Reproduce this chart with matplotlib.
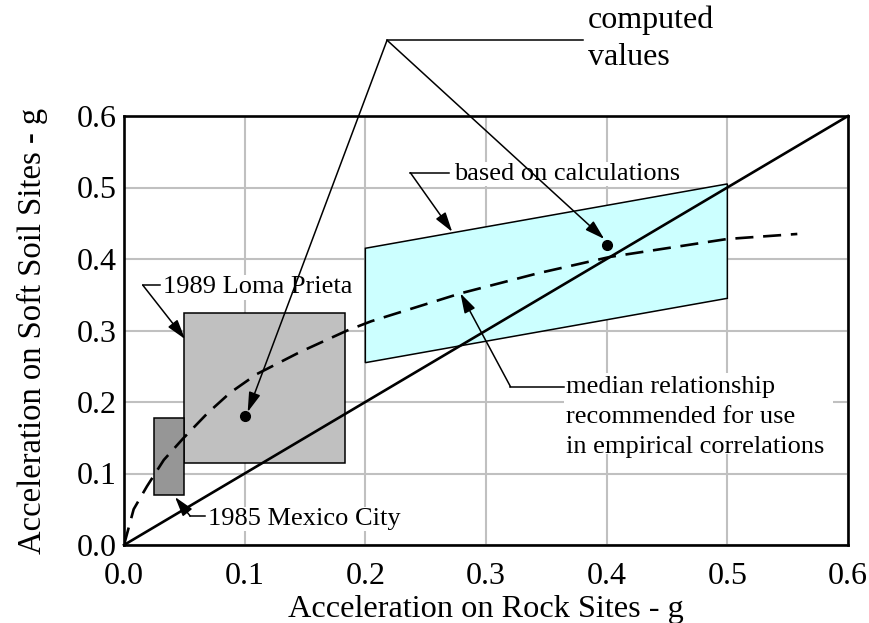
import matplotlib
matplotlib.use("Agg")
import matplotlib.pyplot as plt
from matplotlib.patches import Rectangle, Polygon

plt.rcParams['font.family'] = ['Liberation Serif', 'DejaVu Serif']
plt.rcParams['lines.scale_dashes'] = False

# ---- data -------------------------------------------------------------
tick_values = [0.0, 0.1, 0.2, 0.3, 0.4, 0.5, 0.6]
tick_labels = ["0.0", "0.1", "0.2", "0.3", "0.4", "0.5", "0.6"]

# 1:1 reference line
equal_rock = [0.0, 0.6]
equal_soft = [0.0, 0.6]

# median relationship (rock vs soft-soil acceleration)
median_rock = [0.0, 0.008, 0.019, 0.033, 0.049, 0.069, 0.088, 0.110,
               0.146, 0.185, 0.205, 0.279, 0.343, 0.403, 0.500, 0.558]
median_soft = [0.0, 0.050, 0.082, 0.119, 0.149, 0.184, 0.213, 0.239,
               0.270, 0.300, 0.313, 0.352, 0.380, 0.403, 0.428, 0.435]

# observed ranges
mexico_rock = [0.025, 0.050]
mexico_soft = [0.070, 0.177]
loma_rock = [0.050, 0.183]
loma_soft = [0.115, 0.325]

# band from calculations
calc_rock = [0.2, 0.5, 0.5, 0.2]
calc_soft = [0.255, 0.345, 0.505, 0.415]

# computed values
computed_rock = [0.1, 0.4]
computed_soft = [0.18, 0.42]

# ---- figure -----------------------------------------------------------
W, H = 869, 623
fig = plt.figure(figsize=(W / 100, H / 100), dpi=100)
ax = fig.add_axes([124 / W, 1 - 545 / H, 724 / W, 429 / H])
ax.set_xlim(0, 0.6)
ax.set_ylim(0, 0.6)
ax.set_xticks(tick_values)
ax.set_yticks(tick_values)
ax.set_xticklabels(tick_labels)
ax.set_yticklabels(tick_labels)
ax.tick_params(length=0, labelsize=23)
ax.tick_params(axis='x', pad=12)
ax.tick_params(axis='y', pad=5)
ax.grid(True, color='#c0c0c0', lw=1.5, zorder=0)
ax.set_axisbelow(True)
for s in ax.spines.values():
    s.set_linewidth(1.9)
    s.set_zorder(6)

ax.set_xlabel("Acceleration on Rock Sites - g", fontsize=23.2, labelpad=3)
ax.set_ylabel("Acceleration on Soft Soil Sites - g", fontsize=23.5, labelpad=21)

# regions
ax.add_patch(Polygon(list(zip(calc_rock, calc_soft)), closed=True,
                     facecolor='#ccffff', edgecolor='black', lw=1.1, zorder=2))
ax.add_patch(Rectangle((loma_rock[0], loma_soft[0]), loma_rock[1] - loma_rock[0],
                       loma_soft[1] - loma_soft[0], facecolor='#c0c0c0',
                       edgecolor='black', lw=1.1, zorder=2))
ax.add_patch(Rectangle((mexico_rock[0], mexico_soft[0]), mexico_rock[1] - mexico_rock[0],
                       mexico_soft[1] - mexico_soft[0], facecolor='#969696',
                       edgecolor='black', lw=1.1, zorder=2))

ax.plot(equal_rock, equal_soft, color='black', lw=1.9, zorder=3, clip_on=False)
ax.plot(median_rock, median_soft, color='black', lw=1.9, zorder=3,
        dashes=(13, 7), dash_capstyle='butt')
ax.plot(computed_rock, computed_soft, 'o', color='black', ms=7, zorder=4)

# ---- annotations ------------------------------------------------------
arrow_kw = dict(arrowstyle='-|>,head_length=1.2,head_width=0.36',
                mutation_scale=10, color='black', lw=1.1,
                shrinkA=0, shrinkB=0)
txt_kw = dict(fontsize=19, va='baseline', ha='left', zorder=5)
white_box = dict(facecolor='white', edgecolor='none', pad=1.0)


def leader(corner, stub_end, tip):
    ax.plot([corner[0], stub_end[0]], [corner[1], stub_end[1]], color='black',
            lw=1.1, zorder=7, clip_on=False)
    ax.annotate('', xy=tip, xytext=corner, arrowprops=arrow_kw,
                annotation_clip=False, zorder=7)


# computed values
apex = (0.218, 0.706)
ax.plot([apex[0], 0.380], [apex[1], apex[1]], color='black', lw=1.1,
        zorder=7, clip_on=False)
ax.annotate('', xy=(0.1025, 0.186), xytext=apex, arrowprops=arrow_kw,
            annotation_clip=False, zorder=7)
ax.annotate('', xy=(0.398, 0.428), xytext=apex, arrowprops=arrow_kw,
            annotation_clip=False, zorder=7)
ax.text(0.3842, 0.7227, "computed", fontsize=23, va='baseline', ha='left',
        clip_on=False)
ax.text(0.3842, 0.6713, "values", fontsize=23, va='baseline', ha='left',
        clip_on=False)

# based on calculations
ax.text(0.2739, 0.5105, "based on calculations", bbox=white_box, **txt_kw)
leader((0.2373, 0.5207), (0.2690, 0.5207), (0.272, 0.438))

# 1989 Loma Prieta
ax.text(0.0324, 0.352, "1989 Loma Prieta", bbox=white_box, **txt_kw)
leader((0.0155, 0.3636), (0.0300, 0.3636), (0.0506, 0.288))

# 1985 Mexico City
ax.text(0.0697, 0.028, "1985 Mexico City", bbox=white_box, **txt_kw)
leader((0.0548, 0.0406), (0.0670, 0.0406), (0.0423, 0.0671))

# median relationship
panel = Rectangle((0.3643, 0.1273), 0.2233, 0.1133, facecolor='white',
                  edgecolor='none', zorder=4.5)
ax.add_patch(panel)
for yb, line in zip([0.213, 0.1702, 0.1283],
                    ["median relationship", "recommended for use",
                     "in empirical correlations"]):
    t = ax.text(0.366, yb, line, **txt_kw)
    t.set_clip_path(panel)
leader((0.3203, 0.2214), (0.3643, 0.2214), (0.2788, 0.352))

fig.savefig("out.png", dpi=100)
